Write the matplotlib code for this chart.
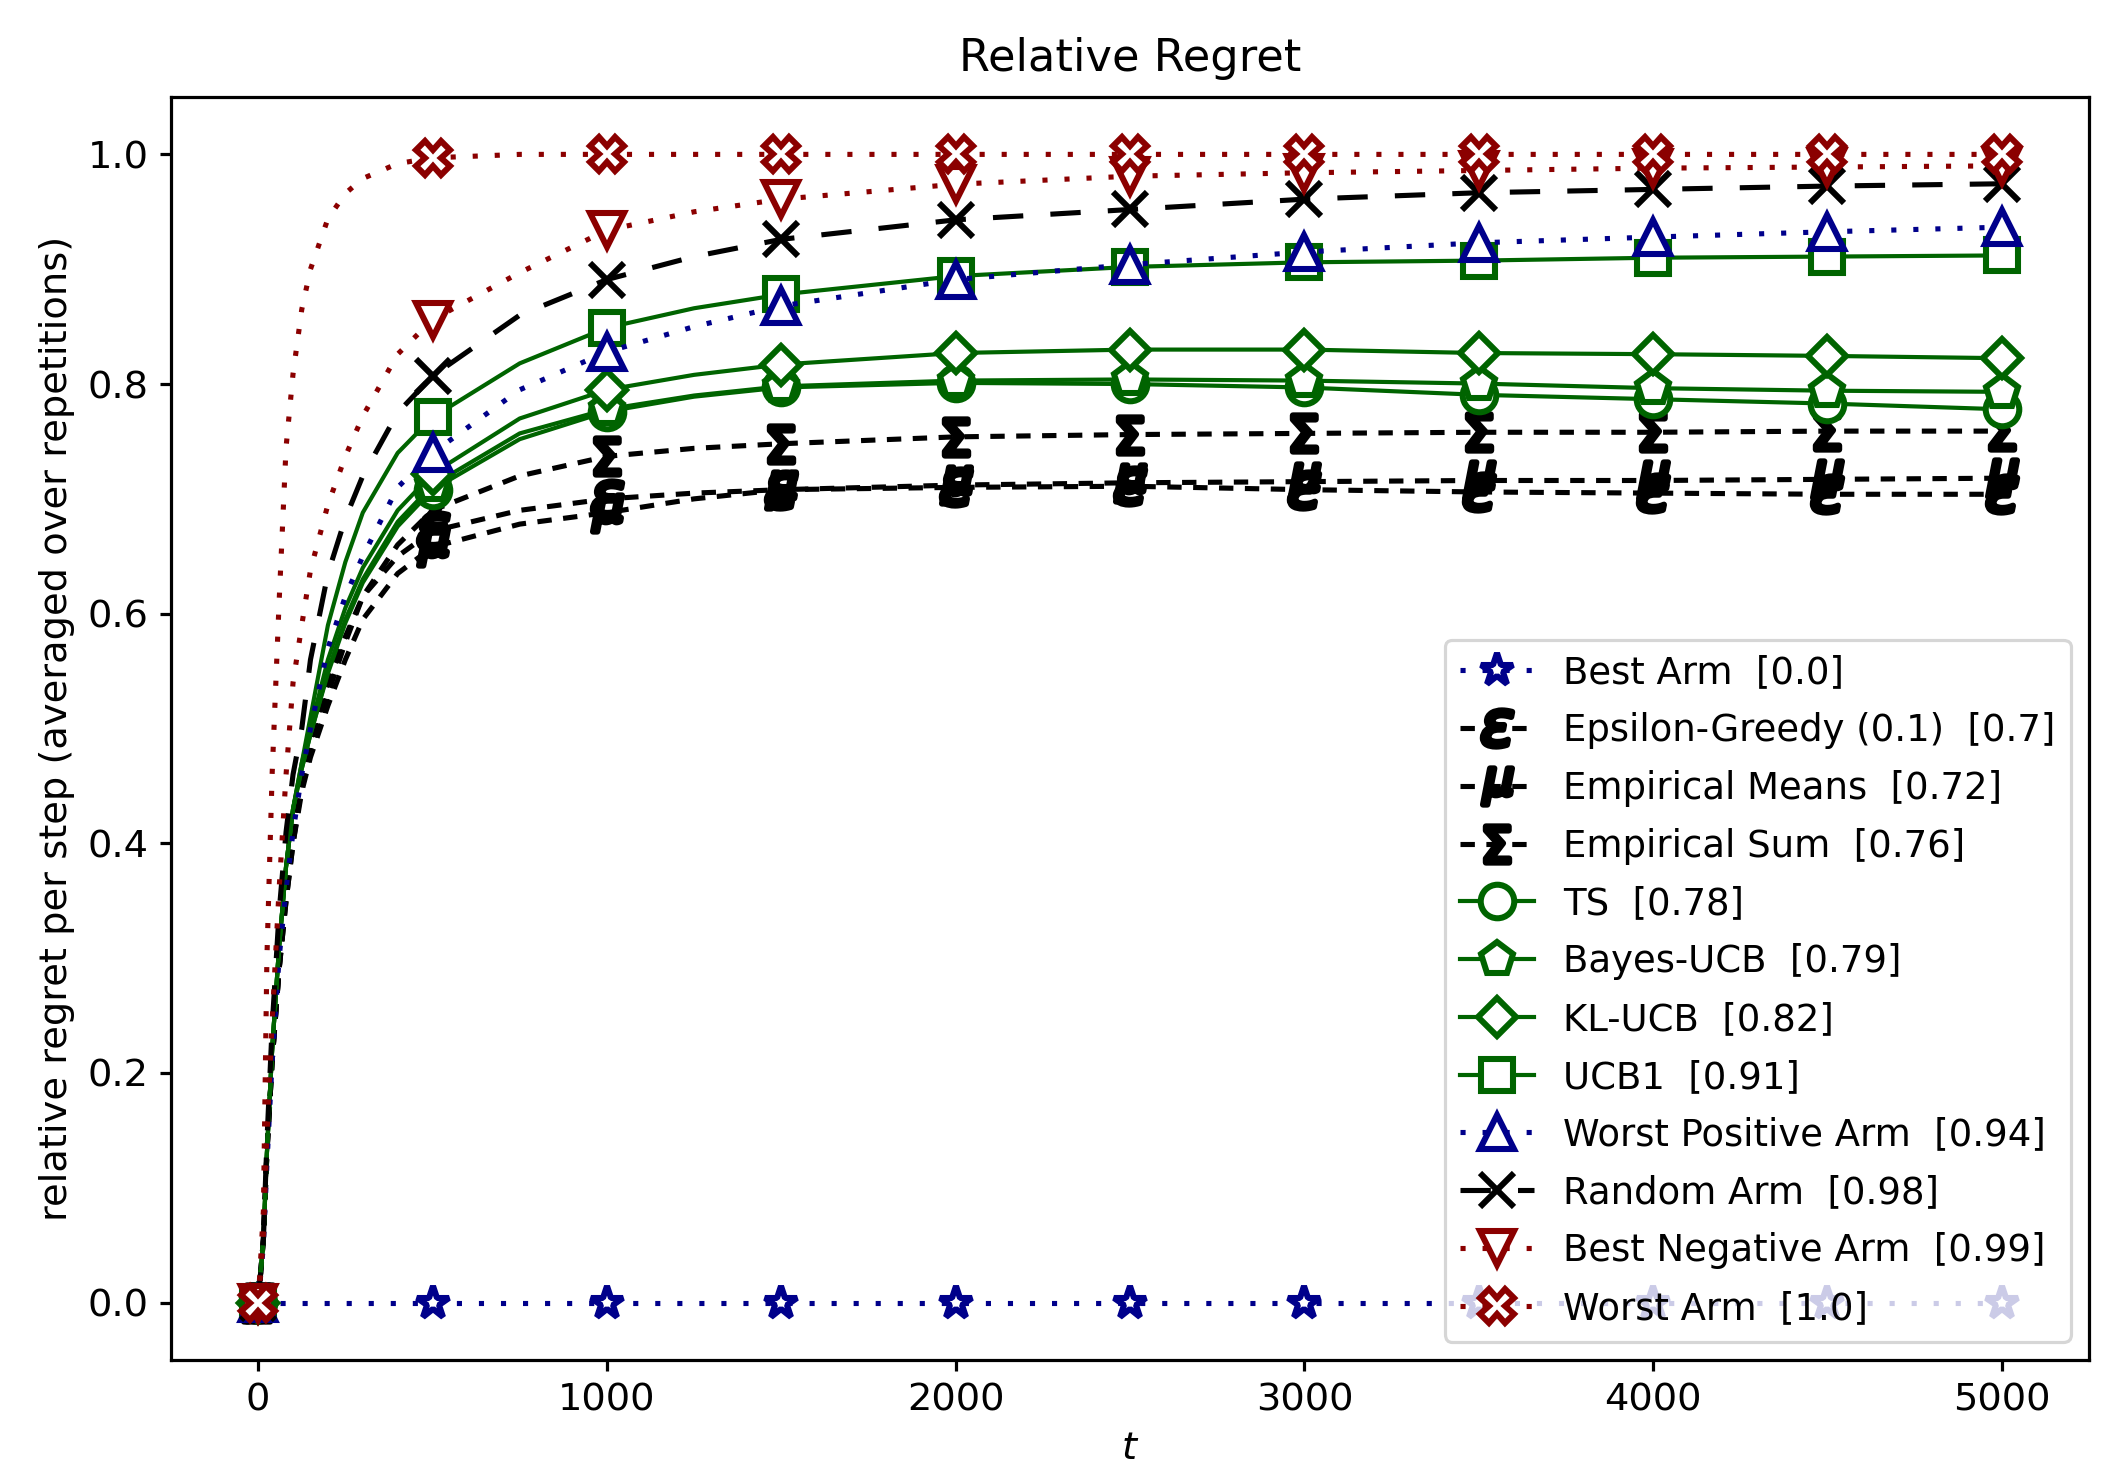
import matplotlib
matplotlib.use('Agg')
import matplotlib.pyplot as plt

plt.rcParams['lines.scale_dashes'] = False
plt.rcParams['mathtext.fontset'] = 'dejavusans'

# ---------------- data ----------------
t = [0, 15, 25, 40, 60, 80, 100, 125, 150, 200, 250, 300, 400, 500,
     750, 1000, 1250, 1500, 2000, 2500, 3000, 3500, 4000, 4500, 5000]

best_arm = [0, 0, 0, 0, 0, 0, 0, 0, 0, 0, 0, 0, 0, 0,
            0, 0, 0, 0, 0, 0, 0, 0, 0, 0, 0]
eps_greedy = [0, 0.055, 0.13, 0.21, 0.29, 0.35, 0.40, 0.45, 0.48, 0.53, 0.575, 0.615, 0.65, 0.672,
              0.69, 0.70, 0.705, 0.708, 0.71, 0.711, 0.708, 0.706, 0.705, 0.704, 0.704]
emp_means = [0, 0.055, 0.13, 0.21, 0.29, 0.35, 0.40, 0.445, 0.475, 0.52, 0.56, 0.595, 0.635, 0.658,
             0.678, 0.688, 0.70, 0.708, 0.712, 0.714, 0.715, 0.716, 0.716, 0.717, 0.718]
emp_sum = [0, 0.055, 0.13, 0.21, 0.29, 0.36, 0.41, 0.46, 0.49, 0.54, 0.58, 0.615, 0.66, 0.69,
           0.72, 0.737, 0.744, 0.748, 0.754, 0.756, 0.757, 0.758, 0.758, 0.759, 0.759]
ts = [0, 0.055, 0.13, 0.22, 0.31, 0.38, 0.43, 0.465, 0.495, 0.548, 0.592, 0.627, 0.676, 0.708,
      0.752, 0.776, 0.789, 0.797, 0.801, 0.800, 0.797, 0.7906, 0.7868, 0.783, 0.778]
bayes_ucb = [0, 0.055, 0.13, 0.22, 0.31, 0.38, 0.43, 0.465, 0.495, 0.55, 0.595, 0.63, 0.68, 0.712,
             0.757, 0.778, 0.79, 0.798, 0.803, 0.804, 0.803, 0.8004, 0.7964, 0.7942, 0.7932]
kl_ucb = [0, 0.055, 0.13, 0.22, 0.31, 0.38, 0.43, 0.47, 0.50, 0.56, 0.605, 0.64, 0.69, 0.722,
          0.77, 0.795, 0.808, 0.817, 0.827, 0.830, 0.830, 0.827, 0.826, 0.8245, 0.8225]
ucb1 = [0, 0.055, 0.13, 0.22, 0.31, 0.38, 0.43, 0.47, 0.51, 0.59, 0.645, 0.688, 0.74, 0.771,
        0.818, 0.849, 0.866, 0.878, 0.894, 0.902, 0.906, 0.9075, 0.910, 0.911, 0.912]
worst_pos = [0, 0.05, 0.12, 0.21, 0.30, 0.36, 0.41, 0.46, 0.50, 0.57, 0.615, 0.65, 0.71, 0.74,
             0.795, 0.828, 0.85, 0.868, 0.891, 0.904, 0.915, 0.923, 0.928, 0.9326, 0.9366]
random_arm = [0, 0.055, 0.14, 0.24, 0.34, 0.41, 0.46, 0.50, 0.56, 0.635, 0.683, 0.72, 0.775, 0.807,
              0.86, 0.891, 0.911, 0.926, 0.943, 0.952, 0.961, 0.9666, 0.9695, 0.9724, 0.9744]
best_neg = [0, 0.055, 0.145, 0.245, 0.36, 0.46, 0.54, 0.59, 0.638, 0.695, 0.737, 0.772, 0.826, 0.856,
            0.897, 0.934, 0.950, 0.961, 0.974, 0.981, 0.984, 0.986, 0.988, 0.989, 0.990]
worst_arm = [0, 0.08, 0.30, 0.46, 0.61, 0.745, 0.809, 0.865, 0.90, 0.944, 0.966, 0.979, 0.992, 0.997,
             1.0, 1.0, 1.0, 1.0, 1.0, 1.0, 1.0, 1.0, 1.0, 1.0, 1.0]

labels = ["Best Arm  [0.0]", "Epsilon-Greedy (0.1)  [0.7]", "Empirical Means  [0.72]",
          "Empirical Sum  [0.76]", "TS  [0.78]", "Bayes-UCB  [0.79]", "KL-UCB  [0.82]",
          "UCB1  [0.91]", "Worst Positive Arm  [0.94]", "Random Arm  [0.98]",
          "Best Negative Arm  [0.99]", "Worst Arm  [1.0]"]

# ---------------- styles ----------------
NAVY = '#00008B'
DGREEN = '#006400'
DRED = '#8B0000'
BLACK = 'black'
DOT = (0, (1.6, 5.3))
SDASH = (0, (4.5, 3.6))
LDASH = (0, (9.5, 8.5))

styles = [
    dict(color=NAVY, marker='*', ls=DOT, lw=1.6, mfc='white'),
    dict(color=BLACK, marker=r'$\varepsilon$', ls=SDASH, lw=1.6, mfc=BLACK, ms_scale=1.08),
    dict(color=BLACK, marker=r'$\mu$', ls=SDASH, lw=1.6, mfc=BLACK, ms_scale=1.08),
    dict(color=BLACK, marker=r'$\Sigma$', ls=SDASH, lw=1.6, mfc=BLACK, ms_scale=1.08),
    dict(color=DGREEN, marker='o', ls='-', lw=1.3, mfc='white'),
    dict(color=DGREEN, marker='p', ls='-', lw=1.3, mfc='white'),
    dict(color=DGREEN, marker='D', ls='-', lw=1.3, mfc='white', ms_scale=0.82),
    dict(color=DGREEN, marker='s', ls='-', lw=1.3, mfc='white', ms_scale=0.95),
    dict(color=NAVY, marker='^', ls=DOT, lw=1.6, mfc='white'),
    dict(color=BLACK, marker='x', ls=LDASH, lw=1.6, mfc=BLACK),
    dict(color=DRED, marker='v', ls=DOT, lw=1.6, mfc='white'),
    dict(color=DRED, marker='X', ls=DOT, lw=1.6, mfc='white'),
]

series = [best_arm, eps_greedy, emp_means, emp_sum, ts, bayes_ucb, kl_ucb, ucb1,
          worst_pos, random_arm, best_neg, worst_arm]

DPI = 230
fig = plt.figure(figsize=(2111 / DPI, 1467 / DPI), dpi=DPI)
ax = fig.add_axes([0.081, 0.0729, 0.9086, 0.861])

mark_idx = [i for i, v in enumerate(t) if v % 500 == 0]
MS = 10.5

for vals, lab, st in zip(series, labels, styles):
    st = dict(st)
    scale = st.pop('ms_scale', 1.0)
    ax.plot(t, vals, label=lab, color=st['color'], marker=st['marker'],
            linestyle=st['ls'], linewidth=st['lw'], markerfacecolor=st['mfc'],
            markeredgecolor=st['color'], markeredgewidth=1.9,
            markersize=MS * scale, markevery=mark_idx)

ax.set_xlim(-250, 5250)
ax.set_ylim(-0.05, 1.05)
ax.set_xticks([0, 1000, 2000, 3000, 4000, 5000])
ax.set_yticks([0.0, 0.2, 0.4, 0.6, 0.8, 1.0])
ax.tick_params(labelsize=12, length=3.5, width=1.0)
for sp in ax.spines.values():
    sp.set_linewidth(1.0)

ax.set_title("Relative Regret", fontsize=14, pad=8)
ax.set_ylabel("relative regret per step (averaged over repetitions)", fontsize=12)
ax.set_xlabel("$t$", fontsize=12)

ax.legend(loc='lower right', fontsize=11.6, labelspacing=0.56)

fig.savefig('out.png', dpi=DPI)
